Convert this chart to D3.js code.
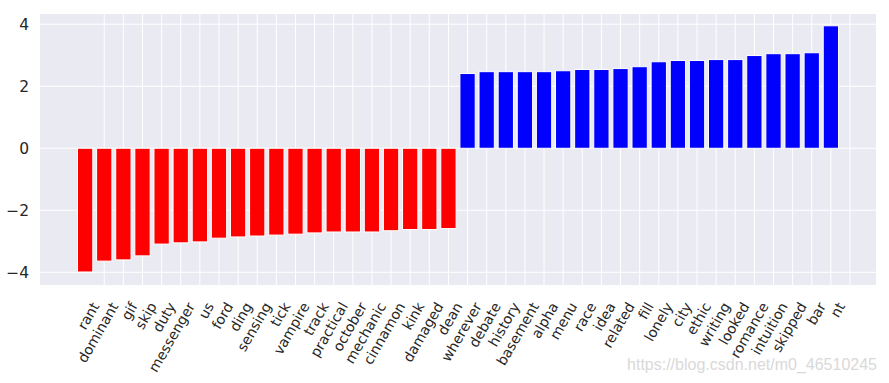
<!DOCTYPE html>
<html><head><meta charset="utf-8">
<script src="https://cdn.jsdelivr.net/npm/d3@7"></script>
<style>html,body{margin:0;padding:0;background:#fff;}svg{display:block;}</style>
</head><body>
<svg id="c" width="889" height="383"></svg>
<script>
const words = ["rant","dominant","gif","skip","duty","messenger","us","ford","ding","sensing","tick","vampire","track","practical","october","mechanic","cinnamon","kink","damaged","dean","wherever","debate","history","basement","alpha","menu","race","idea","related","fill","lonely","city","ethic","writing","looked","romance","intuition","skipped","bar","nt"];
const values = [-3.99,-3.64,-3.60,-3.47,-3.09,-3.05,-3.02,-2.90,-2.86,-2.83,-2.80,-2.77,-2.73,-2.70,-2.70,-2.70,-2.66,-2.62,-2.62,-2.59,
  2.41,2.47,2.47,2.47,2.47,2.50,2.54,2.54,2.57,2.63,2.79,2.83,2.83,2.86,2.86,2.99,3.05,3.05,3.08,3.95];
const yTicks = [-4,-2,0,2,4];
const tickPositions = d3.range(1, 41);
const watermark = "https://blog.csdn.net/m0_46510245";

const svg = d3.select("#c");
const L = 40, R = 876, T = 14, B = 285;
const x = d3.scaleLinear().domain([-2.36, 41.36]).range([L, R]);
const y = d3.scaleLinear().domain([-4.41, 4.33]).range([B, T]);
const step = x(1) - x(0);
const bw = step * 0.8;

svg.append("rect").attr("x", L).attr("y", T).attr("width", R - L).attr("height", B - T).attr("fill", "#EAEAF2");

const g = svg.append("g");
g.selectAll("line.h").data(yTicks).join("line")
  .attr("x1", L).attr("x2", R).attr("y1", d => y(d)).attr("y2", d => y(d))
  .attr("stroke", "#fff").attr("stroke-width", 1);
g.selectAll("line.v").data(tickPositions).join("line")
  .attr("x1", d => x(d)).attr("x2", d => x(d)).attr("y1", T).attr("y2", B)
  .attr("stroke", "#fff").attr("stroke-width", 1);

svg.append("g").selectAll("rect").data(values).join("rect")
  .attr("x", (d, i) => x(i) - bw / 2)
  .attr("width", bw)
  .attr("y", d => y(Math.max(0, d)))
  .attr("height", d => Math.abs(y(d) - y(0)))
  .attr("fill", d => d < 0 ? "#ff0000" : "#0000ff")
  .attr("stroke", "#fff").attr("stroke-width", 1);

svg.append("g").selectAll("text").data(yTicks).join("text")
  .attr("x", 29).attr("y", d => y(d)).attr("dy", "0.36em")
  .attr("text-anchor", "end")
  .attr("font-family", "DejaVu Sans").attr("font-size", 15.5).attr("fill", "#262626")
  .text(d => d < 0 ? "\u2212" + Math.abs(d) : String(d));

svg.append("g").selectAll("text").data(tickPositions).join("text")
  .attr("transform", d => `translate(${x(d) - 4.5},306) rotate(-60)`)
  .attr("text-anchor", "end")
  .attr("font-family", "DejaVu Sans").attr("font-size", 14).attr("fill", "#262626")
  .text((d, i) => words[i]);

svg.append("text").attr("x", 877).attr("y", 370).attr("text-anchor", "end")
  .attr("font-family", "Liberation Sans").attr("font-size", 16).attr("fill", "#d9d9d9")
  .text(watermark);
</script>
</body></html>
